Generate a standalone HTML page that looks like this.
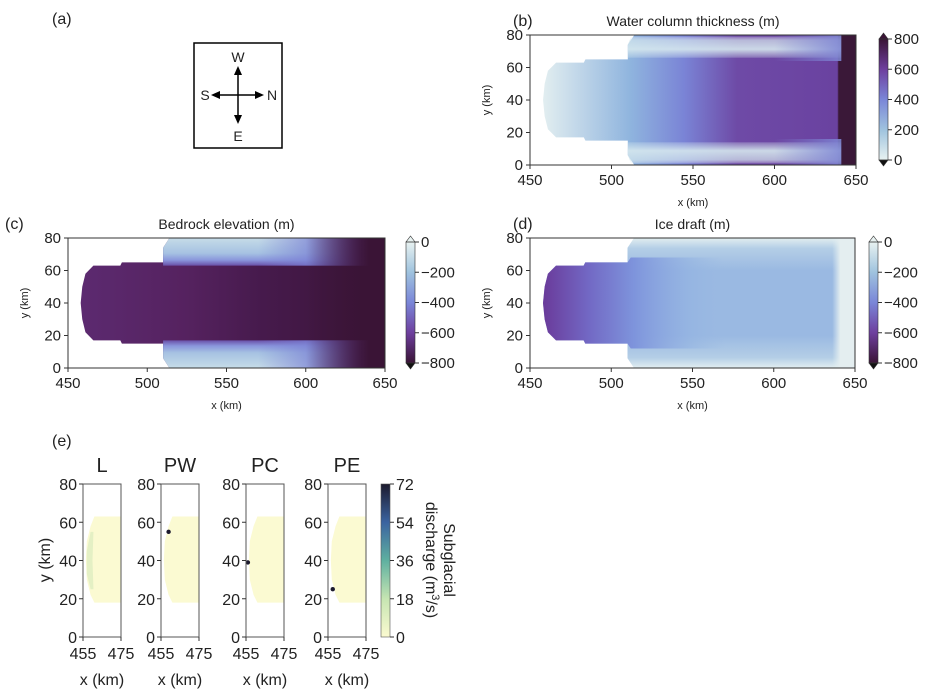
<!DOCTYPE html>
<html><head><meta charset="utf-8"><style>
body{margin:0;background:#fff;}
svg text{font-family:"Liberation Sans",sans-serif;fill:#222;}
</style></head><body>
<svg id="fig" width="944" height="689" xmlns="http://www.w3.org/2000/svg">
<defs id="defs">
<linearGradient id="cbB" x1="0" y1="1" x2="0" y2="0"><stop offset="0" stop-color="#e8f2f1"/><stop offset="0.25" stop-color="#9fc3de"/><stop offset="0.5" stop-color="#7a86d8"/><stop offset="0.75" stop-color="#6e3f9e"/><stop offset="1" stop-color="#3a1436"/></linearGradient>
<linearGradient id="cbR" x1="0" y1="0" x2="0" y2="1"><stop offset="0" stop-color="#e8f2f1"/><stop offset="0.25" stop-color="#9fc3de"/><stop offset="0.5" stop-color="#7a86d8"/><stop offset="0.75" stop-color="#6e3f9e"/><stop offset="1" stop-color="#3a1436"/></linearGradient>
<linearGradient id="cbE" x1="0" y1="1" x2="0" y2="0"><stop offset="0" stop-color="#fbfad0"/><stop offset="0.25" stop-color="#c6e5b2"/><stop offset="0.5" stop-color="#5fb0a0"/><stop offset="0.75" stop-color="#3b64a0"/><stop offset="1" stop-color="#1c1a2e"/></linearGradient>
</defs>

<text x="52" y="24" font-size="16">(a)</text>
<g>
<rect x="194" y="43" width="88" height="105" fill="none" stroke="#000" stroke-width="1.5"/>
<line x1="238" y1="70" x2="238" y2="120" stroke="#000" stroke-width="1.5"/>
<line x1="215" y1="95" x2="260" y2="95" stroke="#000" stroke-width="1.5"/>
<polygon points="238,66 234,75 242,75"/><polygon points="238,124 234,115 242,115"/>
<polygon points="211,95 220,91 220,99"/><polygon points="264,95 255,91 255,99"/>
<text x="238" y="62" font-size="14" text-anchor="middle">W</text>
<text x="238" y="141" font-size="14" text-anchor="middle">E</text>
<text x="205" y="100" font-size="14" text-anchor="middle">S</text>
<text x="272" y="100" font-size="14" text-anchor="middle">N</text>
</g>

<text x="52" y="446" font-size="16">(e)</text>
<g id="charts"></g>
</svg>
<script>
const bigXTicks=[450,500,550,600,650];
const bigYTicks=[0,20,40,60,80];
const cbTicksB=[0,200,400,600,800];
const cbTicksR=[0,-200,-400,-600,-800];
const smallXTicks=[455,475];
const smallYTicks=[0,20,40,60,80];
const cbTicksE=[0,18,36,54,72];
const eTitles=['L','PW','PC','PE'];
const dischargeX=[null,459,456,457.5];
const dischargeY=[null,55,39,25];

const NS='http://www.w3.org/2000/svg';
const root=document.getElementById('charts');
const defs=document.getElementById('defs');
function el(tag,attrs,parent,txt){const e=document.createElementNS(NS,tag);for(const k in attrs)e.setAttribute(k,attrs[k]);if(txt!=null)e.textContent=txt;(parent||root).appendChild(e);return e;}
function grad(id,x1,y1,x2,y2,stops){const g=el('linearGradient',{id:id,gradientUnits:'userSpaceOnUse',x1:x1,y1:y1,x2:x2,y2:y2},defs);
  stops.forEach(s=>el('stop',{offset:s[0],'stop-color':s[1],'stop-opacity':s[2]==null?1:s[2]},g));return 'url(#'+id+')';}

function bigPanel(o){
  const g=el('g',{});
  
  
  const sx=v=>o.x0+(v-450)/200*(o.x1-o.x0), sy=v=>o.y1-v/80*(o.y1-o.y0);
  const poly=(pts,fill,op)=>el('polygon',{points:pts.map(p=>sx(p[0])+','+sy(p[1])).join(' '),fill:fill,opacity:op==null?1:op},g);
  const R=650;
  const full=[[514,0],[R,0],[R,80],[514,80],[510,74],[510,65],[484,65],[483,63],[466,63],[461,58],[459,50],[458,40],[459,30],[461,22],[466,17],[483,17],[484,15],[510,15],[510,6]];
  const body=[[510,15],[484,15],[483,17],[466,17],[461,22],[459,30],[458,40],[459,50],[461,58],[466,63],[483,63],[484,65],[510,65],[512,68],[570,68],[570,12],[512,12]];
  if(o.kind==='b'){
    poly(full,grad('bH',sx(458),0,sx(650),0,[[0,'#e2eef0'],[0.28,'#8fb4de'],[0.45,'#7a84d6'],[0.62,'#6e4aa6'],[0.94,'#6a42a0'],[0.945,'#3a1838'],[1,'#3a1838']]));
    poly([[512,1],[642,1],[642,14],[510,14],[510,6]],grad('bBv1',0,sy(0),0,sy(16),[[0,'#ffffff',0],[0.2,'#d6e8ee',0.7],[0.55,'#d6e8ee',0.9],[1,'#d6e8ee',0]]));
    poly([[512,79],[642,79],[642,66],[510,66],[510,74]],grad('bBv2',0,sy(80),0,sy(64),[[0,'#ffffff',0],[0.2,'#d6e8ee',0.7],[0.55,'#d6e8ee',0.9],[1,'#d6e8ee',0]]));
    poly([[600,0],[642,0],[642,16],[600,16]],grad('bFade1',sx(600),0,sx(642),0,[[0,'#7e86d4',0],[1,'#7e86d4',0.9]]));
    poly([[600,80],[642,80],[642,64],[600,64]],'url(#bFade1)');
    poly([[641,0],[650,0],[650,80],[641,80]],'#3a1838');
  }else if(o.kind==='c'){
    poly(full,grad('cH',sx(458),0,sx(650),0,[[0,'#5c2a70'],[0.35,'#55225f'],[0.6,'#461a4c'],[1,'#3a1436']]));
    poly([[514,0],[650,0],[650,17],[510,17],[510,6]],grad('cV1',0,sy(0),0,sy(17),[[0,'#c6dce8'],[0.55,'#a6c2e2'],[0.8,'#8a96dc'],[1,'#6a50a8']]));
    poly([[514,80],[650,80],[650,63],[510,63],[510,74]],grad('cV2',0,sy(80),0,sy(63),[[0,'#c6dce8'],[0.55,'#a6c2e2'],[0.8,'#8a96dc'],[1,'#6a50a8']]));
    poly([[570,0],[650,0],[650,17],[570,17]],grad('cBl',sx(570),0,sx(635),0,[[0,'#7a80d4',0],[0.5,'#7a80d4',0.7],[1,'#6a44a0',1]]));
    poly([[570,80],[650,80],[650,63],[570,63]],'url(#cBl)');
    poly([[600,0],[650,0],[650,80],[600,80]],grad('cDark',sx(600),0,sx(650),0,[[0,'#3a1436',0],[0.7,'#3a1436',0.9],[0.8,'#3a1436',1],[1,'#3a1436',1]]));
  }else{
    poly(full,grad('dV',0,sy(80),0,sy(0),[[0,'#e2eef0'],[0.08,'#b4cee6'],[0.25,'#9ab9e2'],[0.75,'#9ab9e2'],[0.92,'#b4cee6'],[1,'#e2eef0']]));
    poly(body,grad('dH',sx(458),0,sx(570),0,[[0,'#6a3a9a'],[0.25,'#7268c4'],[0.5,'#7e94dc'],[0.8,'#92b2e2',0.6],[1,'#9ab9e2',0]]));
    poly([[636,0],[650,0],[650,80],[636,80]],grad('dR',sx(636),0,sx(641),0,[[0,'#e2eef0',0],[1,'#e4eef0',1]]));
  }
  el('rect',{x:o.x0,y:o.y0,width:o.x1-o.x0,height:o.y1-o.y0,fill:'none',stroke:'#333','stroke-width':1},g);
  bigXTicks.forEach(v=>{el('line',{x1:sx(v),x2:sx(v),y1:o.y1,y2:o.y1+4,stroke:'#333'},g);el('text',{x:sx(v),y:o.y1+20,'font-size':15,'text-anchor':'middle'},g,v);});
  bigYTicks.forEach(v=>{el('line',{x1:o.x0-4,x2:o.x0,y1:sy(v),y2:sy(v),stroke:'#333'},g);el('text',{x:o.x0-7,y:sy(v)+5,'font-size':15,'text-anchor':'end'},g,v);});
  el('text',{x:(o.x0+o.x1)/2,y:o.y1+41,'font-size':11,'text-anchor':'middle'},g,'x (km)');
  el('text',{x:0,y:0,'font-size':11,'text-anchor':'middle',transform:`translate(${o.x0-40},${(o.y0+o.y1)/2}) rotate(-90)`},g,'y (km)');
  el('text',{x:o.lx,y:o.y0-9,'font-size':16},g,o.label);
  el('text',{x:(o.x0+o.x1)/2,y:o.y0-9,'font-size':14,'text-anchor':'middle'},g,o.title);
  const cx=o.cbx,cw=9,cy0=o.y0+4,cy1=o.y1-5;
  el('rect',{x:cx,y:cy0,width:cw,height:cy1-cy0,fill:o.kind==='b'?'url(#cbB)':'url(#cbR)'},g);
  el('polygon',{points:`${cx},${cy0} ${cx+cw},${cy0} ${cx+cw/2},${cy0-6}`,fill:o.kind==='b'?'#3a1436':'#e8f2f1',stroke:'#333','stroke-width':0.6},g);
  el('polygon',{points:`${cx},${cy1} ${cx+cw},${cy1} ${cx+cw/2},${cy1+6}`,fill:'#111',stroke:'#333','stroke-width':0.6},g);
  el('rect',{x:cx,y:cy0,width:cw,height:cy1-cy0,fill:'none',stroke:'#333','stroke-width':0.6},g);
  const ticks=o.kind==='b'?cbTicksB:cbTicksR;
  ticks.forEach((v,i)=>{const yy=o.kind==='b'?cy1-i/4*(cy1-cy0):cy0+i/4*(cy1-cy0);
    el('line',{x1:cx+cw,x2:cx+cw+4,y1:yy,y2:yy,stroke:'#333'},g);
    el('text',{x:cx+cw+6,y:yy+5,'font-size':15},g,String(v).replace('-','\u2212'));});
}
bigPanel({name:'panel-b-water-column',kind:'b',x0:530,x1:856,y0:35,y1:165,cbx:879,label:'(b)',lx:513,title:'Water column thickness (m)'});
bigPanel({name:'panel-c-bedrock',kind:'c',x0:68,x1:385,y0:238,y1:368,cbx:406,label:'(c)',lx:5,title:'Bedrock elevation (m)'});
bigPanel({name:'panel-d-ice-draft',kind:'d',x0:530,x1:855,y0:238,y1:368,cbx:869,label:'(d)',lx:513,title:'Ice draft (m)'});

const ePanels=[83,161,246,328];
eTitles.forEach((t,i)=>{
  const g=el('g',{});
  
  
  const x0=ePanels[i],x1=x0+38,y0=484,y1=637;
  const sx=v=>x0+(v-455)/20*(x1-x0), sy=v=>y1-v/80*(y1-y0);
  const sh=[[461,18],[475,18],[475,63],[461,63],[459,58],[457,50],[456.5,40],[457,30],[459,22]];
  el('polygon',{points:sh.map(p=>sx(p[0])+','+sy(p[1])).join(' '),fill:'#fbfad2'},g);
  if(i===0) el('polygon',{points:[[459,25],[460.5,25],[460,40],[460.5,55],[459,55],[457,45],[457,33]].map(p=>sx(p[0])+','+sy(p[1])).join(' '),fill:'#e4f0c4'},g);
  if(dischargeX[i]!==null){const c=el('circle',{cx:sx(dischargeX[i]),cy:sy(dischargeY[i]),r:2.2,fill:'#1c1a2e'},g);
    
    }
  el('rect',{x:x0,y:y0,width:x1-x0,height:y1-y0,fill:'none',stroke:'#555','stroke-width':1},g);
  smallXTicks.forEach(v=>{el('line',{x1:sx(v),x2:sx(v),y1:y1,y2:y1+4,stroke:'#333'},g);el('text',{x:sx(v),y:y1+22,'font-size':16,'text-anchor':'middle'},g,v);});
  smallYTicks.forEach(v=>{el('line',{x1:x0-4,x2:x0,y1:sy(v),y2:sy(v),stroke:'#333'},g);el('text',{x:x0-6,y:sy(v)+6,'font-size':16,'text-anchor':'end'},g,v);});
  el('text',{x:(x0+x1)/2,y:y1+48,'font-size':16,'text-anchor':'middle'},g,'x (km)');
  el('text',{x:(x0+x1)/2,y:472,'font-size':20,'text-anchor':'middle'},g,t);
});
el('text',{x:0,y:0,'font-size':16,'text-anchor':'middle',transform:'translate(50,560) rotate(-90)'},null,'y (km)');
const cg=el('g',{});


el('rect',{x:381,y:484,width:9,height:153,fill:'url(#cbE)',stroke:'#555','stroke-width':0.6},cg);
cbTicksE.forEach((v,i)=>{const yy=637-i/4*153;el('line',{x1:390,x2:394,y1:yy,y2:yy,stroke:'#333'},cg);el('text',{x:396,y:yy+6,'font-size':16},cg,v);});
el('text',{x:0,y:0,'font-size':16,'text-anchor':'middle',transform:'translate(444,560) rotate(90)'},cg,'Subglacial');
const lt2=el('text',{x:0,y:0,'font-size':16,'text-anchor':'middle',transform:'translate(426,560) rotate(90)'},cg);
lt2.innerHTML='discharge (m<tspan baseline-shift="super" font-size="11">3</tspan>/s)';
</script>
</body></html>
